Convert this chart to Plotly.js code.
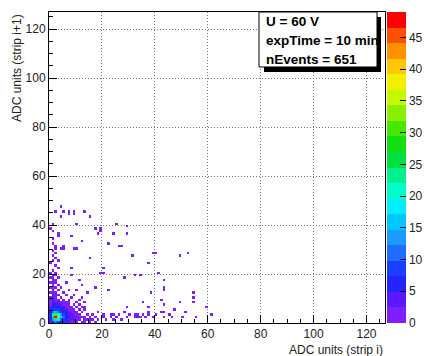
<!DOCTYPE html>
<html>
<head>
<meta charset="utf-8">
<script src="https://cdn.plot.ly/plotly-3.0.1.min.js"></script>
<style>
html,body{margin:0;padding:0;background:#fff;}
#chart{width:425px;height:356px;}
</style>
</head>
<body>
<div id="chart"></div>
<script>
// ---- data ----
const nBins = 127;
// dense core counts: rows = y bin 0..8, columns = x bin 0..7
const coreCounts = [
  [4, 7, 10, 8, 6, 5, 4, 3],
  [5, 14, 24, 18, 11, 8, 6, 4],
  [7, 26, 49, 32, 16, 10, 7, 5],
  [6, 18, 30, 22, 13, 9, 6, 4],
  [5, 11, 15, 12, 9, 7, 5, 3],
  [4, 8, 9, 8, 6, 5, 4, 2],
  [3, 6, 6, 5, 4, 3, 2, 2],
  [2, 5, 5, 4, 3, 2, 2, 1],
  [2, 4, 4, 3, 2, 2, 1, 1]
];
// sparse cells: [x bin, y bin, count]
const lowRowCells = [
  [8,0,2],[9,0,1],[10,0,2],[12,0,1],[13,0,2],[15,0,1],
  [8,1,3],[9,1,3],[10,1,2],[11,1,2],[13,1,2],[14,1,1],[15,1,2],
  [8,2,4],[9,2,3],[10,2,2],[11,2,1],[12,2,2],[13,2,1],[15,2,1],
  [8,3,3],[9,3,2],[10,3,1],[11,3,2],[14,3,1],
  [8,4,2],[9,4,1],[10,4,2],[12,4,1]
];
const nearCells = [
  [8,5,1],[9,5,2],[11,5,1],[13,5,1],[8,6,1],[10,6,1],[12,6,1],[13,6,1],
  [9,7,1],[11,7,1],[10,8,1],[13,8,1],
  [0,9,2],[1,9,3],[2,9,2],[3,9,1],[5,9,1],[7,9,1],[11,9,1],
  [0,10,1],[1,10,3],[2,10,2],[4,10,1],[8,10,1],[12,10,1],
  [1,11,3],[2,11,2],[3,11,1],[6,11,1],[9,11,1],
  [0,12,1],[1,12,2],[2,12,1],[5,12,1],[14,12,1],
  [1,13,3],[3,13,1],[7,13,1],[10,13,1],
  [0,14,1],[1,14,2],[2,14,1],[4,14,1],[17,14,1],
  [1,15,2],[3,15,1],[12,15,1],
  [0,16,1],[1,16,1],[2,16,1],[6,16,1],
  [1,17,1],[2,17,1],[11,17,1],
  [0,18,1],[1,18,1],[3,18,1],
  [1,19,1],[2,19,1],[8,19,1],
  [0,20,1],[2,20,1],[19,20,1]
];
const upperCells = [
  [1,21,1],[3,22,1],[8,22,1],[2,23,1],[0,24,1],[1,25,1],[3,25,1],[2,26,1],[15,26,1],
  [1,27,1],[2,28,1],[1,29,1],[2,30,1],[4,30,1],[5,30,1],[9,30,1],[10,30,1],
  [2,31,1],[5,31,1],[1,32,1],[12,33,1],[1,34,1],[3,35,1],[8,35,1],[3,36,1],
  [18,36,1],[1,37,1],[0,38,1],[17,38,1],[19,38,1],[1,40,1],[10,40,1],
  [4,43,1],[15,43,1],[7,44,1],[9,44,1],[2,45,1],[5,45,1],[7,45,1],[9,45,1],
  [13,45,1],[4,47,1]
];
const farCells = [
  [20,22,1],[19,37,1],[25,40,1],[29,39,1],[24,36,1],[29,36,1],[22,32,1],
  [26,31,1],[27,31,1],[31,27,1],[39,28,1],[40,28,1],[37,24,1],[49,27,1],
  [52,28,1],[28,18,1],[32,19,1],[34,19,1],[20,20,1],[41,20,1],[43,17,1],
  [43,14,1],[43,13,1],[22,13,1],[38,12,1],[54,12,1],[54,10,1],[54,8,1],
  [49,8,1],[42,9,1],[35,8,1],[37,6,1],[29,6,1],[43,7,1],[59,6,1],[47,5,1]
];
const bottomCells = [
  [16,1,2],[16,3,1],[17,0,1],[17,2,1],[18,1,1],[18,4,1],[20,2,1],[20,3,1],
  [21,1,1],[23,2,2],[23,3,1],[24,1,1],[24,3,1],[25,2,1],[26,3,2],[27,1,1],
  [28,4,1],[29,2,1],[30,3,1],[32,2,2],[32,3,2],[33,2,3],[33,3,2],[34,2,2],
  [35,3,1],[36,2,1],[37,3,1],[37,4,1],[39,2,1],[40,3,1],[42,4,1],[43,4,1],
  [43,2,1],[45,3,1],[46,2,1],[51,4,1],[50,2,1],[55,2,1],[61,3,1]
];
const zMax = 49;
const paletteColors = [
  '#7f1fff','#5a1aff','#2424ff','#1a40ff','#1f6cff','#1a9cff','#00c8ff','#00eeff',
  '#00ffc8','#00f090','#00e040','#10e010','#44e800','#88f000','#c8f800','#f0f000',
  '#ffc800','#ff9000','#ff5000','#ff0000'
];
const infoLines = ['U = 60 V', 'expTime = 10 min', 'nEvents = 651'];
const xTitle = 'ADC units (strip i)';
const yTitle = 'ADC units (strip i+1)';

// ---- build z matrix ----
const z = [];
for (let j = 0; j < nBins; j++) { const row = []; for (let i = 0; i < nBins; i++) row.push(null); z.push(row); }
coreCounts.forEach((row, yb) => row.forEach((n, xb) => { if (n > 0) z[yb][xb] = n; }));
[lowRowCells, nearCells, upperCells, farCells, bottomCells].forEach(list =>
  list.forEach(c => { z[c[1]][c[0]] = (z[c[1]][c[0]] || 0) + c[2]; }));

const colorscale = [];
paletteColors.forEach((c, i) => {
  colorscale.push([i / paletteColors.length, c]);
  colorscale.push([(i + 1) / paletteColors.length, c]);
});

const font = {family: 'Liberation Sans, Arial, sans-serif', size: 12, color: '#222'};

const trace = {
  type: 'heatmap', z: z, x0: 0.5, dx: 1, y0: 0.5, dy: 1,
  zmin: 0, zmax: zMax, colorscale: colorscale, zsmooth: false, hoverinfo: 'skip',
  colorbar: {
    x: 1.006, xanchor: 'left', xpad: 0, y: 0, yanchor: 'bottom', ypad: 0,
    len: 1, lenmode: 'fraction', thickness: 19, thicknessmode: 'pixels',
    outlinewidth: 0, ticks: 'inside', ticklen: 6, tickcolor: '#000', tickwidth: 1,
    tick0: 0, dtick: 5, tickfont: font
  }
};

const axisCommon = {
  range: [0, nBins], showline: true, mirror: true, linecolor: '#000', linewidth: 1,
  ticks: 'inside', ticklen: 8, tickcolor: '#000', tick0: 0, dtick: 20,
  minor: {ticks: 'inside', ticklen: 4, tickcolor: '#000', dtick: 5, showgrid: false},
  showgrid: true, gridcolor: '#777', gridwidth: 1, griddash: '1px,2px',
  zeroline: false, tickfont: font, fixedrange: true
};

const shapes = [
  {type: 'rect', xref: 'paper', yref: 'paper', layer: 'above',
   x0: (264 - 49) / 336, x1: (381 - 49) / 336, y0: (323 - 72) / 311, y1: (323 - 17) / 311,
   fillcolor: '#000', line: {width: 0}},
  {type: 'rect', xref: 'paper', yref: 'paper', layer: 'above',
   x0: (259 - 49) / 336, x1: (377 - 49) / 336, y0: (323 - 67) / 311, y1: (323 - 12) / 311,
   fillcolor: '#fff', line: {width: 1, color: '#000'}}
];

const annotations = infoLines.map((t, k) => ({
  text: '<b>' + t + '</b>', xref: 'paper', yref: 'paper', showarrow: false,
  x: (264 - 49) / 336, xanchor: 'left', y: (323 - (21 + k * 19)) / 311, yanchor: 'middle',
  font: {family: 'Liberation Sans, Arial, sans-serif', size: 13.5, color: '#000'}
}));
annotations.push({
  text: xTitle, xref: 'paper', yref: 'paper', showarrow: false,
  x: 1, xanchor: 'right', y: -(350 - 323) / 311, yanchor: 'middle', font: font
});
annotations.push({
  text: yTitle, xref: 'paper', yref: 'paper', showarrow: false, textangle: -90,
  x: (17 - 49) / 336, xanchor: 'center', y: 1, yanchor: 'top', font: font
});

const layout = {
  width: 425, height: 356,
  margin: {l: 49, r: 40, t: 12, b: 33, autoexpand: false},
  paper_bgcolor: '#fff', plot_bgcolor: '#fff',
  xaxis: axisCommon, yaxis: Object.assign({}, axisCommon),
  shapes: shapes, annotations: annotations, showlegend: false
};

Plotly.newPlot('chart', [trace], layout, {displayModeBar: false, staticPlot: true});
</script>
</body>
</html>
